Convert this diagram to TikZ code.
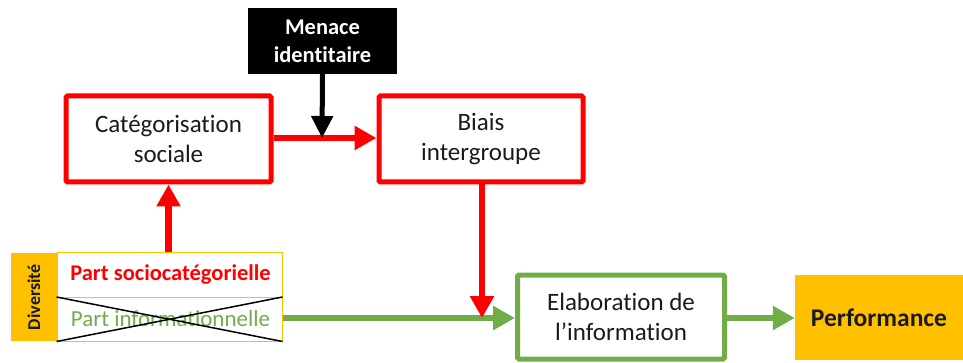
\documentclass[tikz,border=0pt]{standalone}
\usepackage{fontspec}
\setmainfont[Ligatures=NoCommon]{Carlito}
\usetikzlibrary{arrows.meta}
\definecolor{cred}{HTML}{FF0000}
\definecolor{cgreen}{HTML}{70AD47}
\definecolor{cyel}{HTML}{FFC000}
\definecolor{ctext}{HTML}{1A1A1A}
\tikzset{
  redbox/.style={draw=cred,line width=5pt,rounded corners=1.5pt,fill=white,align=center,text=ctext,font=\fontsize{25}{30}\selectfont,inner sep=0pt},
  greenbox/.style={draw=cgreen,line width=5pt,rounded corners=1.5pt,fill=white,align=center,text=ctext,font=\fontsize{25}{30}\selectfont,inner sep=0pt},
  redarr/.style={draw=cred,line width=6.5pt,-{Triangle[length=22pt,width=23pt]}},
  greenarr/.style={draw=cgreen,line width=6pt,-{Triangle[length=22pt,width=23pt]}},
  blackarr/.style={draw=black,line width=5pt,-{Triangle[length=22pt,width=21pt]}},
}
\begin{document}
\begin{tikzpicture}[x=1pt,y=-1pt]
\useasboundingbox (0,0) rectangle (963,363);
% boxes
\node[fill=black,text=white,minimum width=149pt,minimum height=66pt,inner sep=0pt,align=center,font=\bfseries\fontsize{22.5}{28}\selectfont] (men) at (322.5,41) {Menace\\identitaire};
\node[redbox,minimum width=205pt,minimum height=86pt] (cat) at (168.5,139) {Catégorisation\\sociale};
\node[redbox,minimum width=204pt,minimum height=86pt] (bia) at (481,139) {Biais\\intergroupe};
\node[greenbox,minimum width=207pt,minimum height=84pt] (ela) at (621,317) {Elaboration de\\l’information};
\node[fill=cyel,minimum width=168pt,minimum height=85pt,inner sep=0pt,text=ctext,font=\bfseries\fontsize{25.5}{30}\selectfont] (per) at (879,317.5) {Performance};
% diversity block
\node[fill=cyel,minimum width=46pt,minimum height=88pt,inner sep=0pt] (div) at (34,297) {};
\node[rotate=90,text=ctext,font=\bfseries\fontsize{18}{20}\selectfont] (divt) at (div.center) {Diversité};
\node[draw=cyel,line width=1pt,fill=white,minimum width=225pt,minimum height=88pt,inner sep=0pt] (part) at (169.5,297) {};
\draw[cyel,line width=1pt] (part.west) -- (part.east);
\node[text=cred,font=\bfseries\fontsize{22.5}{26}\selectfont] (soc) at (170.5,275) {Part sociocatégorielle};
\node[text=cgreen,font=\fontsize{23}{26}\selectfont] (inf) at (170.5,319) {Part informationnelle};
\draw[black,line width=1.5pt] (part.west) -- (part.south east);
\draw[black,line width=1.5pt] (part.south west) -- (part.east);
% connectors
\coordinate (junc) at (322,138);
\draw[redarr] (cat.east |- 0,138) -- (bia.west |- 0,138);
\draw[blackarr] (men.south) -- (junc);
\draw[redarr] (part.north -| 168.5,0) -- (cat.south);
\coordinate (gy) at (482,318);
\draw[greenarr] (part.east |- 0,318) -- (ela.west |- 0,318);
\draw[redarr] (bia.south -| 482,0) -- (gy);
\draw[greenarr] (ela.east |- 0,318) -- (per.west |- 0,318);
\end{tikzpicture}
\end{document}
